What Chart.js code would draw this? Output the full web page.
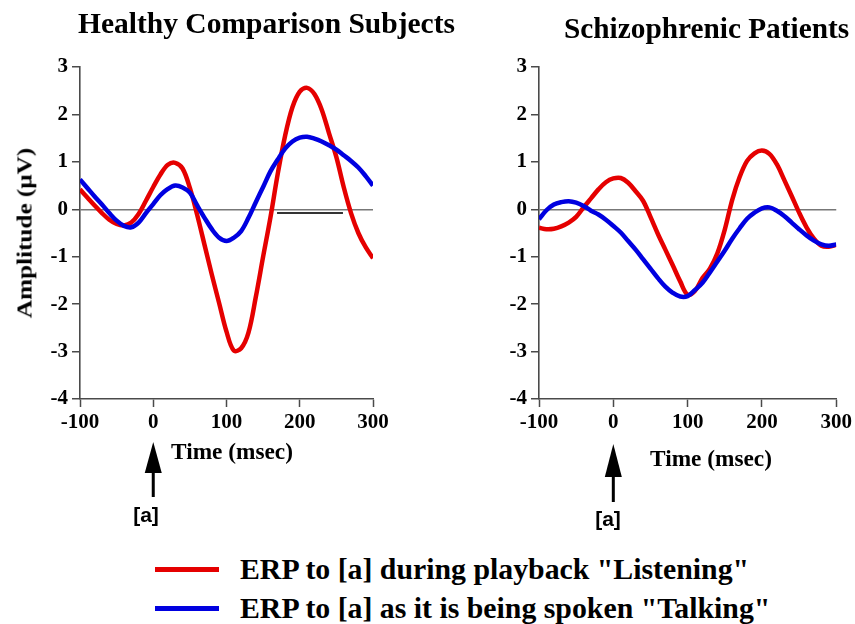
<!DOCTYPE html>
<html>
<head>
<meta charset="utf-8">
<script src="https://cdn.jsdelivr.net/npm/chart.js@4.4.1/dist/chart.umd.min.js"></script>
<style>
body { margin:0; width:855px; height:624px; background:#fff; position:relative; overflow:hidden; font-family:'Liberation Serif','Times New Roman',serif; }
.txt { position:absolute; font-weight:bold; white-space:nowrap; line-height:1; color:#000; }
.mid { transform:translate(-50%,-50%); }
#wrapL { position:absolute; left:0; top:0; width:430px; height:545px; }
#wrapR { position:absolute; left:430px; top:0; width:425px; height:545px; }
.key { position:absolute; left:155px; width:64px; height:5px; }
</style>
</head>
<body>
<div id="wrapL"><canvas id="healthy"></canvas></div>
<div id="wrapR"><canvas id="patients"></canvas></div>

<div class="txt" style="left:78px;top:9px;font-size:29.5px">Healthy Comparison Subjects</div>
<div class="txt" style="left:564px;top:14px;font-size:29.3px">Schizophrenic Patients</div>
<div class="txt" style="left:25px;top:233px;font-size:21px;transform:translate(-50%,-50%) rotate(-90deg) scaleX(1.2)">Amplitude (&mu;V)</div>
<div class="txt mid" style="left:232px;top:452px;font-size:23.3px">Time (msec)</div>
<div class="txt mid" style="left:711px;top:459px;font-size:23.3px">Time (msec)</div>
<div class="txt mid" style="left:146px;top:514px;font-size:21px;font-family:'Liberation Sans',Arial,sans-serif">[a]</div>
<div class="txt mid" style="left:608px;top:518px;font-size:21px;font-family:'Liberation Sans',Arial,sans-serif">[a]</div>

<div class="key" style="top:567px;background:#e50000"></div>
<div class="key" style="top:606px;background:#0000e0"></div>
<div class="txt" style="left:240px;top:569px;font-size:29.8px;transform:translateY(-50%)">ERP to [a] during playback "Listening"</div>
<div class="txt" style="left:240px;top:607.5px;font-size:29.8px;transform:translateY(-50%)">ERP to [a] as it is being spoken "Talking"</div>

<script>
// time axis (msec), sampled every 10 ms
var time = [-100,-90,-80,-70,-60,-50,-40,-30,-20,-10,0,10,20,30,40,50,60,70,80,90,100,
            110,120,130,140,150,160,170,180,190,200,210,220,230,240,250,260,270,280,290,300]

// healthy comparison subjects
var healthyListening = [0.42,0.25,0.08,-0.08,-0.22,-0.31,-0.34,-0.28,-0.10,0.18,0.47,0.74,0.94,0.98,0.86,0.45,-0.12,-0.75,-1.38,-1.98,-2.58,
                        -2.98,-2.93,-2.60,-1.85,-1.00,-0.17,0.75,1.55,2.15,2.48,2.56,2.43,2.10,1.60,1.10,0.47,-0.08,-0.50,-0.80,-1.03]
var healthyTalking = [0.63,0.45,0.27,0.10,-0.08,-0.24,-0.35,-0.38,-0.28,-0.08,0.11,0.30,0.43,0.50,0.46,0.35,0.08,-0.18,-0.42,-0.60,-0.67,
                      -0.60,-0.46,-0.18,0.15,0.47,0.80,1.05,1.28,1.43,1.51,1.53,1.49,1.43,1.35,1.26,1.14,1.02,0.88,0.70,0.50]

// schizophrenic patients
var patientListening = [-0.39,-0.42,-0.41,-0.36,-0.28,-0.16,0.04,0.23,0.42,0.57,0.65,0.66,0.56,0.38,0.18,-0.16,-0.52,-0.85,-1.18,-1.52,-1.80,
                        -1.72,-1.45,-1.25,-0.93,-0.43,0.20,0.68,1.02,1.18,1.24,1.17,0.95,0.62,0.28,-0.07,-0.38,-0.62,-0.77,-0.79,-0.75]
var patientTalking = [-0.21,-0.02,0.10,0.15,0.17,0.14,0.07,-0.03,-0.11,-0.22,-0.35,-0.49,-0.67,-0.85,-1.05,-1.25,-1.45,-1.63,-1.76,-1.84,-1.83,
                      -1.70,-1.55,-1.33,-1.10,-0.87,-0.62,-0.40,-0.20,-0.07,0.02,0.04,-0.03,-0.14,-0.28,-0.42,-0.55,-0.66,-0.74,-0.77,-0.74]

// stray baseline mark in the healthy panel
var strayTime = [169, 259]
var strayValue = [-0.08, -0.08]

var yTicks = [-4,-3,-2,-1,0,1,2,3]
var xTicks = [-100,0,100,200,300]

var RED = '#e50000'
var BLUE = '#0000e0'
var AXIS = '#4a4a4a'

function points(xs, ys) {
    return xs.map(function(x, i){ return {x: x, y: ys[i]} })
}

// upward arrow marking stimulus onset (t = 0)
var arrowPlugin = {
    id: 'onsetArrow',
    afterDraw: function(chart, args, opts) {
        var ctx = chart.ctx
        var x = chart.scales.x.getPixelForValue(0)
        var b = chart.chartArea.bottom
        ctx.save()
        ctx.fillStyle = '#000'
        ctx.beginPath()
        ctx.moveTo(x, b + opts.tip)
        ctx.lineTo(x - 8.5, b + opts.head)
        ctx.lineTo(x + 8.5, b + opts.head)
        ctx.closePath()
        ctx.fill()
        ctx.fillRect(x - 1.5, b + opts.head - 1, 3, opts.end - opts.head + 1)
        ctx.restore()
    }
}

function makeChart(id, listening, talking, extra, yWidth, pad, arrow) {
    var datasets = [
        {data: points(time, talking), borderColor: BLUE, borderWidth: 4.5, order: 1},
        {data: points(time, listening), borderColor: RED, borderWidth: 4.5, order: 2}
    ]
    if (extra) {
        datasets.push({data: points(strayTime, strayValue), borderColor: '#333', borderWidth: 2, order: 3, tension: 0})
    }
    var tickFont = {family: "'Liberation Serif','Times New Roman',serif", size: 21, weight: 'bold'}
    return new Chart(document.getElementById(id).getContext('2d'), {
        type: 'line',
        data: {datasets: datasets},
        plugins: [arrowPlugin],
        options: {
            responsive: true,
            maintainAspectRatio: false,
            animation: false,
            layout: {padding: pad},
            elements: {point: {radius: 0}, line: {tension: 0.35, fill: false}},
            plugins: {
                legend: {display: false},
                tooltip: {enabled: false},
                onsetArrow: arrow
            },
            scales: {
                x: {
                    type: 'linear', min: -100, max: 300,
                    afterBuildTicks: function(s){ s.ticks = xTicks.map(function(v){ return {value: v} }) },
                    afterFit: function(s){ s.height = 30 },
                    ticks: {color: '#000', font: tickFont, padding: 3, maxRotation: 0},
                    grid: {drawOnChartArea: false, tickLength: 8, tickColor: AXIS, tickWidth: 1.5},
                    border: {color: AXIS, width: 1.6}
                },
                y: {
                    min: -4, max: 3,
                    afterBuildTicks: function(s){ s.ticks = yTicks.map(function(v){ return {value: v} }) },
                    afterFit: function(s){ s.width = yWidth },
                    ticks: {color: '#000', font: tickFont, padding: 4},
                    grid: {
                        color: function(c){ return c.tick && c.tick.value === 0 ? '#777' : 'rgba(0,0,0,0)' },
                        lineWidth: 1.5, tickLength: 8, tickColor: AXIS, tickWidth: 1.5
                    },
                    border: {color: AXIS, width: 1.6}
                }
            }
        }
    })
}

makeChart('healthy', healthyListening, healthyTalking, true, 80,
    {left: 0, top: 67, right: 57, bottom: 116}, {tip: 43, head: 74, end: 98})
makeChart('patients', patientListening, patientTalking, false, 109,
    {left: 0, top: 67, right: 16, bottom: 116}, {tip: 45, head: 78, end: 103})
</script>
</body>
</html>
